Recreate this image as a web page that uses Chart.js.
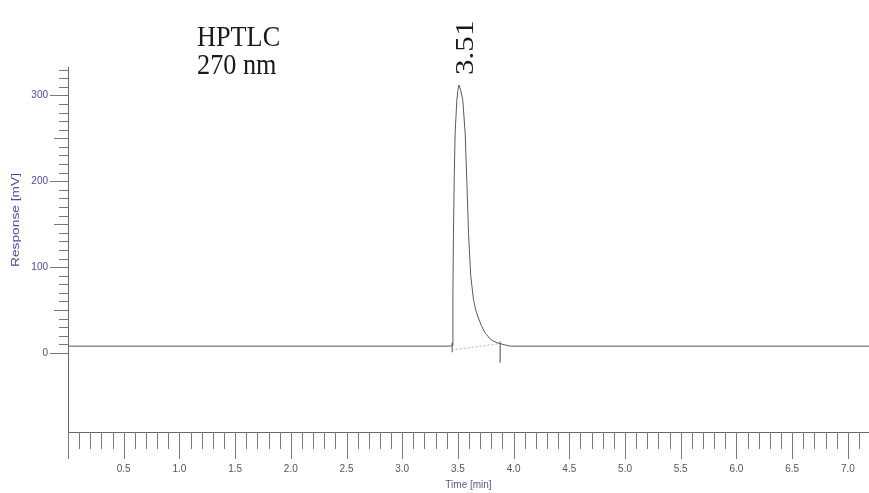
<!DOCTYPE html>
<html>
<head>
<meta charset="utf-8">
<script src="https://cdn.jsdelivr.net/npm/chart.js@4.4.0/dist/chart.umd.min.js"></script>
<style>
  html, body { margin: 0; padding: 0; background: #ffffff; }
  #wrap { width: 869px; height: 493px; }
</style>
</head>
<body>
<div id="wrap"><canvas id="c" width="869" height="493"></canvas></div>
<script>
// ---- data ----
const times    = [0, 3.43, 3.449, 3.455, 3.46, 3.467, 3.475, 3.49, 3.50, 3.51, 3.525, 3.544, 3.565, 3.58, 3.595, 3.615, 3.64, 3.66, 3.68, 3.71, 3.745, 3.80, 3.86, 3.92, 3.97, 7.2];
const response = [8,    8,    9,   70,  139,  205,   256,  294,  306,  312,   306,   294,   256,  200,   140,    90,   62,   50,   42,   32,    23,   15, 11.5,  9.5,    8,   8];
const baselineTimes    = [3.445, 3.88];
const baselineResponse = [3.5, 11];
const markerStart = [3.449, 3.449];
const markerStartResp = [12, 1];
const markerEnd = [3.88, 3.88];
const markerEndResp = [13, -11];

const xTickValues = [0.5, 1.0, 1.5, 2.0, 2.5, 3.0, 3.5, 4.0, 4.5, 5.0, 5.5, 6.0, 6.5, 7.0];
const xTickLabels = ['0.5','1.0','1.5','2.0','2.5','3.0','3.5','4.0','4.5','5.0','5.5','6.0','6.5','7.0'];
const yTickValues = [0, 100, 200, 300];
const yTickLabels = ['0','100','200','300'];

const xTitle = 'Time [min]';
const yTitle = 'Response [mV]';
const headerLines = ['HPTLC', '270 nm'];
const peakLabel = '3.51';
const peakTime = 3.51;
const peakValue = 312;

const pts = (xs, ys) => xs.map((x, i) => ({ x: x, y: ys[i] }));

const decor = {
  id: 'decor',
  afterDraw(chart) {
    const ctx = chart.ctx;
    const xs = chart.scales.x, ys = chart.scales.y;
    ctx.save();
    // x minor/major tick marks
    ctx.strokeStyle = '#7a7a7a';
    ctx.lineWidth = 1;
    for (let i = 0; i <= 72; i++) {
      const v = i / 10;
      const px = Math.round(xs.getPixelForValue(v)) + 0.5;
      if (px > xs.right) continue;
      const len = (i % 5 === 0) ? 27 : 17;
      ctx.beginPath();
      ctx.moveTo(px, ys.bottom);
      ctx.lineTo(px, ys.bottom + len);
      ctx.stroke();
    }
    // y tick marks
    for (let v = 0; v <= 330; v += 10) {
      const py = Math.round(ys.getPixelForValue(v)) + 0.5;
      const len = (v % 100 === 0) ? 18 : (v % 50 === 0 ? 14 : 9);
      ctx.beginPath();
      ctx.moveTo(xs.left - len, py);
      ctx.lineTo(xs.left, py);
      ctx.stroke();
    }
    // y title
    ctx.fillStyle = '#4a4aa8';
    ctx.font = '11px "Liberation Sans", Arial, sans-serif';
    ctx.translate(19, 220);
    ctx.rotate(-Math.PI / 2);
    ctx.scale(1.25, 1);
    ctx.textAlign = 'center';
    ctx.textBaseline = 'alphabetic';
    ctx.fillText(yTitle, 0, 0);
    ctx.restore();

    // header text
    ctx.save();
    ctx.fillStyle = '#1a1a1a';
    ctx.font = '25px "Liberation Serif", "Times New Roman", serif';
    ctx.textAlign = 'left';
    ctx.textBaseline = 'alphabetic';
    ctx.save(); ctx.translate(197, 46); ctx.scale(1.05, 1.2); ctx.fillText(headerLines[0], 0, 0); ctx.restore();
    ctx.save(); ctx.translate(197, 74); ctx.scale(1.05, 1.2); ctx.fillText(headerLines[1], 0, 0); ctx.restore();
    // peak label
    const px = xs.getPixelForValue(peakTime);
    const py = ys.getPixelForValue(peakValue);
    ctx.save();
    ctx.translate(px + 14, py - 10);
    ctx.rotate(-Math.PI / 2);
    ctx.scale(1.3, 1.05);
    ctx.font = '24px "Liberation Serif", "Times New Roman", serif';
    ctx.fillText(peakLabel, 0, 0);
    ctx.restore();
    ctx.restore();
  }
};

new Chart(document.getElementById('c'), {
  type: 'line',
  plugins: [decor],
  data: {
    datasets: [
      { data: pts(times, response), borderColor: '#5a5a5a', borderWidth: 1, pointRadius: 0, tension: 0, fill: false },
      { data: pts(baselineTimes, baselineResponse), borderColor: '#b5b5b5', borderWidth: 1, borderDash: [2, 2], pointRadius: 0, fill: false },
      { data: pts(markerStart, markerStartResp), borderColor: '#8a8a8a', borderWidth: 1, pointRadius: 0, fill: false },
      { data: pts(markerEnd, markerEndResp), borderColor: '#8a8a8a', borderWidth: 1, pointRadius: 0, fill: false }
    ]
  },
  options: {
    responsive: false,
    animation: false,
    events: [],
    layout: { padding: { top: 67, right: 0, left: 0, bottom: 0 } },
    plugins: { legend: { display: false }, tooltip: { enabled: false }, title: { display: false } },
    scales: {
      x: {
        type: 'linear',
        min: 0, max: 7.19,
        afterFit: (s) => { s.height = 61; s.paddingLeft = 0; s.paddingRight = 0; },
        afterBuildTicks: (s) => { s.ticks = xTickValues.map(v => ({ value: v })); },
        ticks: {
          autoSkip: false, maxRotation: 0, padding: 31,
          color: '#555',
          font: { family: '"Liberation Sans", Arial, sans-serif', size: 10 },
          callback: (v) => { const i = xTickValues.indexOf(v); return i >= 0 ? xTickLabels[i] : ''; }
        },
        grid: { display: true, drawOnChartArea: false, drawTicks: false },
        border: { display: true, color: '#6a6a6a', width: 1 },
        title: { display: true, text: xTitle, color: '#5a5a8a', font: { family: '"Liberation Sans", Arial, sans-serif', size: 10 }, padding: { top: 0, bottom: 2 } }
      },
      y: {
        type: 'linear',
        min: -92, max: 333,
        afterFit: (s) => { s.width = 68; s.paddingTop = 0; s.paddingBottom = 0; },
        afterBuildTicks: (s) => { s.ticks = yTickValues.map(v => ({ value: v })); },
        ticks: {
          autoSkip: false, padding: 20,
          color: '#4a4aa8',
          font: { family: '"Liberation Sans", Arial, sans-serif', size: 10 },
          callback: (v) => { const i = yTickValues.indexOf(v); return i >= 0 ? yTickLabels[i] : ''; }
        },
        grid: { display: true, drawOnChartArea: false, drawTicks: false },
        border: { display: true, color: '#6a6a6a', width: 1 }
      }
    }
  }
});
</script>
</body>
</html>
